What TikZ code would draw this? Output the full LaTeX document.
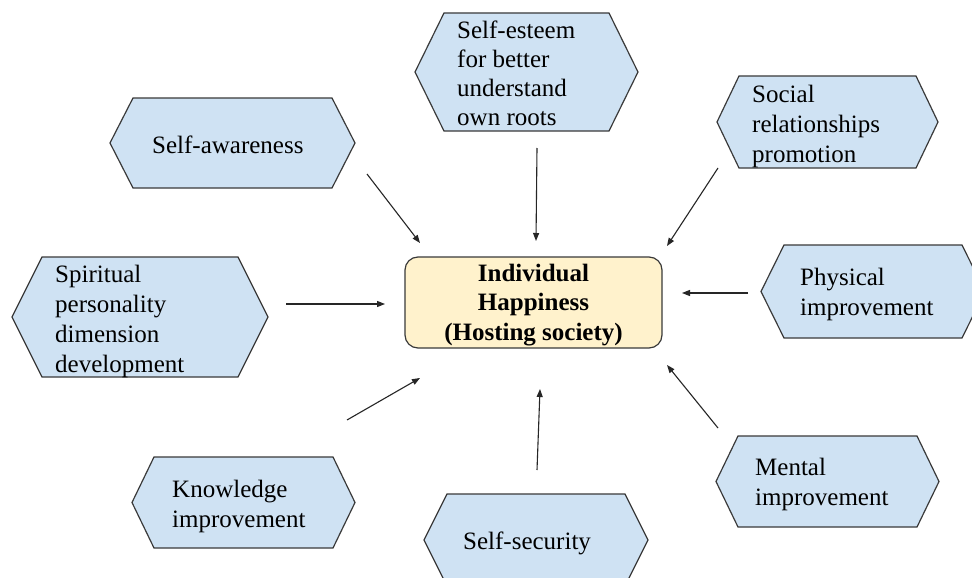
\documentclass[tikz,border=0pt]{standalone}
\usepackage{fontspec}
\setmainfont{Liberation Serif}
\usetikzlibrary{arrows.meta}
\definecolor{hexblue}{HTML}{CFE2F3}
\definecolor{coreyellow}{HTML}{FFF2CC}
\definecolor{edgegray}{HTML}{3A3A3A}
\tikzset{
  hexstyle/.style={fill=hexblue, draw=edgegray, line width=1.2pt, line join=miter},
  lbl/.style={inner sep=0pt, align=left, anchor=base west, text=black, font=\fontsize{25}{30}\selectfont},
  corebox/.style={fill=coreyellow, draw=edgegray, line width=1.2pt, rounded corners=13pt, minimum width=257pt, minimum height=91pt, inner sep=0pt},
  corelbl/.style={inner sep=0pt, align=center, anchor=base, text=black, font=\fontsize{25}{29.5}\selectfont\bfseries},
  feed/.style={draw=black!85, line width=1.1pt, -{Triangle[length=8pt,width=6pt]}}
}
\newcommand\hexshape[6]{%
  \path[hexstyle] (#2,{(#3+#5)/2}) -- (#2+#6,#3) -- (#4-#6,#3) -- (#4,{(#3+#5)/2}) -- (#4-#6,#5) -- (#2+#6,#5) -- cycle;
  \coordinate (#1) at ({(#2+#4)/2},{(#3+#5)/2});}
\begin{document}
\begin{tikzpicture}[x=1pt,y=-1pt]
\useasboundingbox (0,0) rectangle (972,578);
\clip (0,0) rectangle (972,578);
\fill[white] (0,0) rectangle (972,578);

% hexagons
\hexshape{saH}{110}{98}{355}{188}{23}
\hexshape{spH}{12}{257}{268}{377}{30}
\hexshape{seH}{415}{13}{638}{131}{29}
\hexshape{soH}{717}{76}{938}{168}{22}
\hexshape{phH}{761}{245}{985}{338}{23}
\hexshape{meH}{716}{436}{939}{527}{22}
\hexshape{knH}{132}{457}{355}{548}{22}
\hexshape{ssH}{424}{494}{648}{586}{23}

% labels (anchor at baseline of last line)
\node[lbl] (sa) at (152,153) {Self-awareness};
\node[lbl] (sp) at (55,372) {Spiritual\\personality\\dimension\\development};
\node[lbl, font=\fontsize{25}{29}\selectfont] (se) at (457,125) {Self-esteem\\for better\\understand\\own roots};
\node[lbl] (so) at (752,162) {Social\\relationships\\promotion};
\node[lbl] (ph) at (800,315) {Physical\\improvement};
\node[lbl] (me) at (755,505) {Mental\\improvement};
\node[lbl] (kn) at (172,527) {Knowledge\\improvement};
\node[lbl] (ss) at (463,549) {Self-security};

% centre
\node[corebox] (core) at (533.5,302.5) {};
\node[corelbl] (coretext) at (533.5,340) {Individual\\Happiness\\(Hosting society)};

% arrow end points
\coordinate (a1s) at (367,174); \coordinate (a1e) at (420,243);
\coordinate (a2s) at (537,148); \coordinate (a2e) at (536,241);
\coordinate (a3s) at (718,168); \coordinate (a3e) at (667,246);
\coordinate (a4s) at (286,304); \coordinate (a4e) at (385,304);
\coordinate (a5s) at (748,293); \coordinate (a5e) at (682,293);
\coordinate (a6s) at (347,420); \coordinate (a6e) at (420,378);
\coordinate (a7s) at (537,470); \coordinate (a7e) at (540,389);
\coordinate (a8s) at (718,428); \coordinate (a8e) at (667,365);

\foreach \i in {1,...,8} {\draw[feed] (a\i s) -- (a\i e);}
\end{tikzpicture}
\end{document}
